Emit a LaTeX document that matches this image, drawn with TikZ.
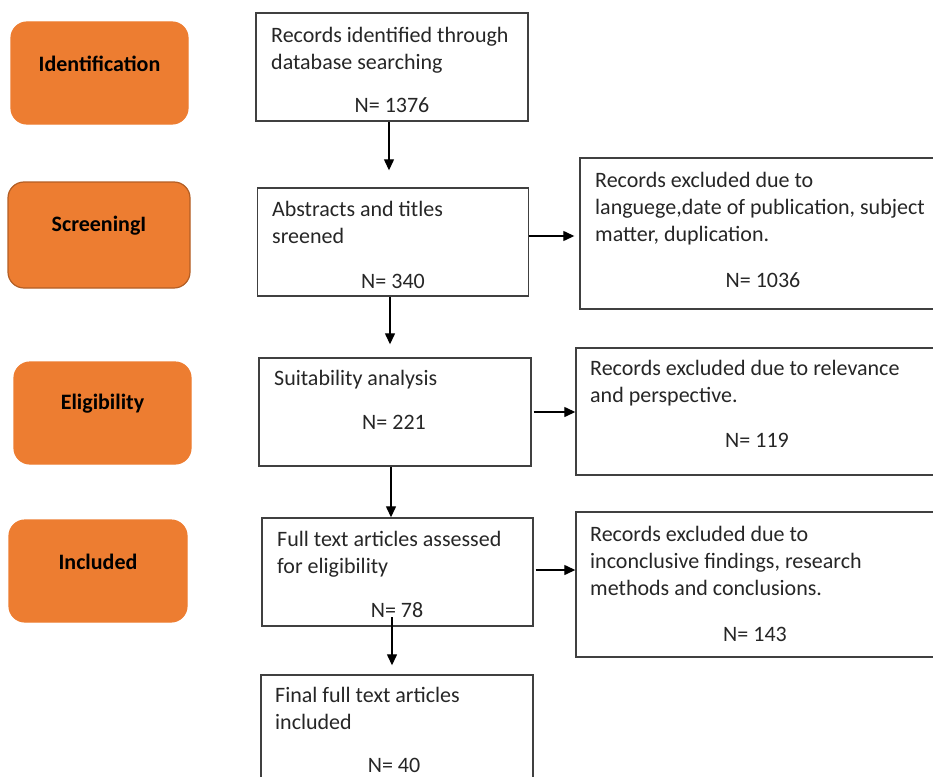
\documentclass[tikz,border=0pt]{standalone}
\usepackage{fontspec}
\setmainfont{Carlito}
\usetikzlibrary{arrows.meta}

\definecolor{stageorange}{HTML}{ED7D31}
\definecolor{stageedge}{HTML}{B35E24}
\definecolor{boxgray}{HTML}{404040}
\definecolor{inkgray}{HTML}{262626}

\tikzset{
  bigtext/.style={font=\fontsize{22}{27}\selectfont},
  stage/.style={fill=stageorange, rounded corners=16pt, inner sep=0pt, line width=1.2pt},
  stagetext/.style={font=\fontsize{22}{27}\selectfont\bfseries, text=black, inner sep=0pt},
  recbox/.style={draw=boxgray, line width=1.4pt, inner sep=0pt},
  rectext/.style={bigtext, anchor=base west, align=left, inner sep=0pt, text=inkgray},
  count/.style={bigtext, anchor=base, inner sep=0pt, text=inkgray},
  flow/.style={-{Triangle[length=11pt,width=10pt]}, line width=1.3pt},
}

\begin{document}
\begin{tikzpicture}[x=1pt,y=-1pt]
  \useasboundingbox (0,0) rectangle (933,776);

  % stages
  \foreach \nm/\x/\y/\w/\h/\edge/\txt in {
      idf/99.5/73/177/102/stageorange/Identification,
      scr/99/235/182/106/stageedge/ScreeningI,
      elg/102.5/413/177/102/stageorange/Eligibility,
      inc/98/571/178/102/stageorange/Included}{
    \node[stage, draw=\edge, minimum width=\w pt, minimum height=\h pt] (\nm) at (\x,\y) {};
    \node[stagetext] (\nm txt) at ([yshift=9pt]\nm.center) {\txt};
  }

  % main column
  \node[recbox, minimum width=272pt, minimum height=108pt] (rec1) at (392,67) {};
  \node[recbox, minimum width=271pt, minimum height=108pt] (rec2) at (393,242) {};
  \node[recbox, minimum width=272pt, minimum height=108pt] (rec3) at (395,412) {};
  \node[recbox, minimum width=271pt, minimum height=108pt] (rec4) at (397.5,572) {};
  \node[recbox, minimum width=272pt, minimum height=108pt] (rec5) at (397,729) {};

  % (base = last line)
  \node[rectext] (rec1txt) at (271,69) {Records identified through\\database searching};
  \node[count] (rec1n) at (392,112) {N= 1376};
  \node[rectext] (rec2txt) at (272,243) {Abstracts and titles\\sreened};
  \node[count] (rec2n) at (393,288) {N= 340};
  \node[rectext] (rec3txt) at (274,385) {Suitability analysis};
  \node[count] (rec3n) at (394,429) {N= 221};
  \node[rectext] (rec4txt) at (277,573) {Full text articles assessed\\for eligibility};
  \node[count] (rec4n) at (397,617) {N= 78};
  \node[rectext] (rec5txt) at (275,729) {Final full text articles\\included};
  \node[count] (rec5n) at (394,772) {N= 40};

  % exclusions
  \node[recbox, minimum width=380pt, minimum height=151pt] (exc1) at (770,233.5) {};
  \node[recbox, minimum width=380pt, minimum height=127pt] (exc2) at (766,411.5) {};
  \node[recbox, minimum width=380pt, minimum height=145pt] (exc3) at (766,584.5) {};

  \node[rectext] (exc1txt) at (595,241) {Records excluded due to\\languege,date of publication, subject\\matter, duplication.};
  \node[count] (exc1n) at (763,287) {N= 1036};
  \node[rectext] (exc2txt) at (590,402) {Records excluded due to relevance\\and perspective.};
  \node[count] (exc2n) at (757,447) {N= 119};
  \node[rectext] (exc3txt) at (590,595) {Records excluded due to\\inconclusive findings, research\\methods and conclusions.};
  \node[count] (exc3n) at (755,641) {N= 143};

  % arrows
  \draw[flow, shorten >=17pt] ([xshift=-3pt]rec1.south) -- ([xshift=-3pt]rec1.south |- rec2.north);
  \draw[flow, shorten >=13pt] ([xshift=-3pt]rec2.south) -- ([xshift=-3pt]rec2.south |- rec3.north);
  \draw[flow] ([xshift=-4pt]rec3.south) -- ([xshift=-4pt]rec3.south |- rec4.north);
  \draw[flow, shorten >=9pt] ([xshift=-5pt]rec4n.south) -- ([xshift=-5pt]rec4n.south |- rec5.north);

  \draw[flow, shorten >=5pt] ([yshift=6pt]rec2.east) -- ([yshift=6pt]rec2.east -| exc1.west);
  \draw[flow, shorten <=2pt] (rec3.east) -- (rec3.east -| exc2.west);
  \draw[flow, shorten <=2pt] ([yshift=2pt]rec4.east) -- ([yshift=2pt]rec4.east -| exc3.west);

\end{tikzpicture}
\end{document}
